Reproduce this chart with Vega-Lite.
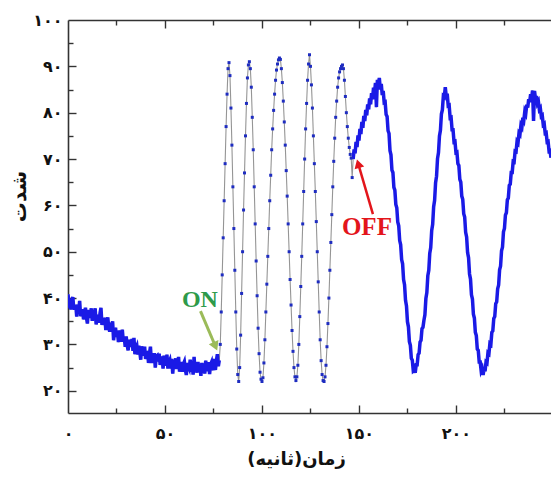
{
"$schema":"https://vega.github.io/schema/vega-lite/v6.json",
"width":483,"height":393,
"autosize":{"type":"none"},
"padding":{"left":68,"top":20,"right":0,"bottom":64},
"background":"white",
"config":{"view":{"stroke":null},"axis":{"grid":false,"domainColor":"#333333","tickColor":"#333333","domainWidth":1.6,"tickWidth":1.4,"labelFont":"DejaVu Sans","labelFontWeight":"bold","labelColor":"#111111","titleFont":"DejaVu Sans","titleFontWeight":"bold","titleColor":"#111111"}},
"datasets":{
"notes":[{"label":"ON","tx":68.0,"ty":39.6,"ax":68.3,"ay":37.2,"hx":76.0,"hy":29.6},{"label":"OFF","tx":154.1,"ty":55.3,"ax":157.2,"ay":58.1,"hx":149.6,"hy":69.0}],
"signal":[
{"t":0,"v":40.8,"p":"pre"},{"t":0.5,"v":39.0,"p":"pre"},{"t":1,"v":39.5,"p":"pre"},{"t":1.5,"v":37.5,"p":"pre"},{"t":2,"v":39.6,"p":"pre"},{"t":2.5,"v":40.2,"p":"pre"},{"t":3,"v":37.5,"p":"pre"},{"t":3.5,"v":38.0,"p":"pre"},{"t":4,"v":38.5,"p":"pre"},{"t":4.5,"v":36.0,"p":"pre"},{"t":5,"v":38.6,"p":"pre"},{"t":5.5,"v":36.9,"p":"pre"},{"t":6,"v":39.4,"p":"pre"},{"t":6.5,"v":36.1,"p":"pre"},{"t":7,"v":36.7,"p":"pre"},{"t":7.5,"v":37.6,"p":"pre"},{"t":8,"v":35.4,"p":"pre"},{"t":8.5,"v":36.9,"p":"pre"},{"t":9,"v":37.9,"p":"pre"},{"t":9.5,"v":35.8,"p":"pre"},{"t":10,"v":34.5,"p":"pre"},{"t":10.5,"v":37.4,"p":"pre"},{"t":11,"v":36.8,"p":"pre"},{"t":11.5,"v":35.7,"p":"pre"},{"t":12,"v":37.8,"p":"pre"},{"t":12.5,"v":35.1,"p":"pre"},{"t":13,"v":36.3,"p":"pre"},{"t":13.5,"v":35.6,"p":"pre"},{"t":14,"v":37.8,"p":"pre"},{"t":14.5,"v":34.3,"p":"pre"},{"t":15,"v":36.4,"p":"pre"},{"t":15.5,"v":35.6,"p":"pre"},{"t":16,"v":34.7,"p":"pre"},{"t":16.5,"v":36.7,"p":"pre"},{"t":17,"v":37.9,"p":"pre"},{"t":17.5,"v":34.2,"p":"pre"},{"t":18,"v":35.7,"p":"pre"},{"t":18.5,"v":34.3,"p":"pre"},{"t":19,"v":35.8,"p":"pre"},{"t":19.5,"v":33.1,"p":"pre"},{"t":20,"v":35.1,"p":"pre"},{"t":20.5,"v":35.8,"p":"pre"},{"t":21,"v":33.6,"p":"pre"},{"t":21.5,"v":32.8,"p":"pre"},{"t":22,"v":34.7,"p":"pre"},{"t":22.5,"v":33.3,"p":"pre"},{"t":23,"v":35.0,"p":"pre"},{"t":23.5,"v":30.9,"p":"pre"},{"t":24,"v":33.0,"p":"pre"},{"t":24.5,"v":33.6,"p":"pre"},{"t":25,"v":31.6,"p":"pre"},{"t":25.5,"v":32.6,"p":"pre"},{"t":26,"v":30.5,"p":"pre"},{"t":26.5,"v":33.0,"p":"pre"},{"t":27,"v":31.5,"p":"pre"},{"t":27.5,"v":30.6,"p":"pre"},{"t":28,"v":33.2,"p":"pre"},{"t":28.5,"v":30.7,"p":"pre"},{"t":29,"v":31.6,"p":"pre"},{"t":29.5,"v":29.5,"p":"pre"},{"t":30,"v":31.7,"p":"pre"},{"t":30.5,"v":29.8,"p":"pre"},{"t":31,"v":28.7,"p":"pre"},{"t":31.5,"v":31.0,"p":"pre"},{"t":32,"v":30.3,"p":"pre"},{"t":32.5,"v":29.5,"p":"pre"},{"t":33,"v":31.2,"p":"pre"},{"t":33.5,"v":28.6,"p":"pre"},{"t":34,"v":31.4,"p":"pre"},{"t":34.5,"v":27.9,"p":"pre"},{"t":35,"v":29.2,"p":"pre"},{"t":35.5,"v":29.7,"p":"pre"},{"t":36,"v":27.8,"p":"pre"},{"t":36.5,"v":29.7,"p":"pre"},{"t":37,"v":28.4,"p":"pre"},{"t":37.5,"v":26.7,"p":"pre"},{"t":38,"v":29.6,"p":"pre"},{"t":38.5,"v":27.6,"p":"pre"},{"t":39,"v":28.4,"p":"pre"},{"t":39.5,"v":29.5,"p":"pre"},{"t":40,"v":26.9,"p":"pre"},{"t":40.5,"v":27.4,"p":"pre"},{"t":41,"v":28.6,"p":"pre"},{"t":41.5,"v":26.0,"p":"pre"},{"t":42,"v":28.0,"p":"pre"},{"t":42.5,"v":29.5,"p":"pre"},{"t":43,"v":26.0,"p":"pre"},{"t":43.5,"v":27.3,"p":"pre"},{"t":44,"v":26.3,"p":"pre"},{"t":44.5,"v":28.1,"p":"pre"},{"t":45,"v":25.0,"p":"pre"},{"t":45.5,"v":27.4,"p":"pre"},{"t":46,"v":27.6,"p":"pre"},{"t":46.5,"v":26.3,"p":"pre"},{"t":47,"v":28.0,"p":"pre"},{"t":47.5,"v":25.6,"p":"pre"},{"t":48,"v":26.3,"p":"pre"},{"t":48.5,"v":27.4,"p":"pre"},{"t":49,"v":24.8,"p":"pre"},{"t":49.5,"v":27.6,"p":"pre"},{"t":50,"v":26.6,"p":"pre"},{"t":50.5,"v":25.4,"p":"pre"},{"t":51,"v":27.8,"p":"pre"},{"t":51.5,"v":24.8,"p":"pre"},{"t":52,"v":26.1,"p":"pre"},{"t":52.5,"v":26.6,"p":"pre"},{"t":53,"v":24.8,"p":"pre"},{"t":53.5,"v":26.9,"p":"pre"},{"t":54,"v":23.7,"p":"pre"},{"t":54.5,"v":26.5,"p":"pre"},{"t":55,"v":25.2,"p":"pre"},{"t":55.5,"v":27.0,"p":"pre"},{"t":56,"v":24.7,"p":"pre"},{"t":56.5,"v":26.0,"p":"pre"},{"t":57,"v":27.3,"p":"pre"},{"t":57.5,"v":24.1,"p":"pre"},{"t":58,"v":25.3,"p":"pre"},{"t":58.5,"v":26.2,"p":"pre"},{"t":59,"v":24.1,"p":"pre"},{"t":59.5,"v":25.8,"p":"pre"},{"t":60,"v":26.3,"p":"pre"},{"t":60.5,"v":24.6,"p":"pre"},{"t":61,"v":23.4,"p":"pre"},{"t":61.5,"v":26.0,"p":"pre"},{"t":62,"v":25.3,"p":"pre"},{"t":62.5,"v":24.8,"p":"pre"},{"t":63,"v":26.7,"p":"pre"},{"t":63.5,"v":24.1,"p":"pre"},{"t":64,"v":25.7,"p":"pre"},{"t":64.5,"v":23.5,"p":"pre"},{"t":65,"v":27.3,"p":"pre"},{"t":65.5,"v":24.2,"p":"pre"},{"t":66,"v":25.3,"p":"pre"},{"t":66.5,"v":23.9,"p":"pre"},{"t":67,"v":26.2,"p":"pre"},{"t":67.5,"v":24.6,"p":"pre"},{"t":68,"v":25.6,"p":"pre"},{"t":68.5,"v":23.2,"p":"pre"},{"t":69,"v":26.0,"p":"pre"},{"t":69.5,"v":24.8,"p":"pre"},{"t":70,"v":25.8,"p":"pre"},{"t":70.5,"v":23.7,"p":"pre"},{"t":71,"v":26.5,"p":"pre"},{"t":71.5,"v":24.3,"p":"pre"},{"t":72,"v":24.9,"p":"pre"},{"t":72.5,"v":26.2,"p":"pre"},{"t":73,"v":23.6,"p":"pre"},{"t":73.5,"v":25.7,"p":"pre"},{"t":74,"v":26.2,"p":"pre"},{"t":74.5,"v":24.4,"p":"pre"},{"t":75,"v":26.9,"p":"pre"},{"t":75.5,"v":25.1,"p":"pre"},{"t":76,"v":24.5,"p":"pre"},{"t":76.5,"v":26.5,"p":"pre"},{"t":77,"v":27.9,"p":"pre"},{"t":77.5,"v":25.3,"p":"pre"},{"t":78,"v":26.6,"p":"pre"},
{"t":78.5,"v":30,"p":"osc"},{"t":79,"v":37,"p":"osc"},{"t":79.5,"v":45,"p":"osc"},{"t":80,"v":53,"p":"osc"},{"t":80.5,"v":61,"p":"osc"},{"t":81,"v":69,"p":"osc"},{"t":81.5,"v":77,"p":"osc"},{"t":82,"v":84,"p":"osc"},{"t":82.5,"v":89.5,"p":"osc"},{"t":83,"v":90.8,"p":"osc"},{"t":83.5,"v":88,"p":"osc"},{"t":84,"v":81,"p":"osc"},{"t":84.5,"v":73,"p":"osc"},{"t":85,"v":64,"p":"osc"},{"t":85.5,"v":55,"p":"osc"},{"t":86,"v":46,"p":"osc"},{"t":86.5,"v":37,"p":"osc"},{"t":87,"v":29,"p":"osc"},{"t":87.5,"v":23.5,"p":"osc"},{"t":88,"v":22,"p":"osc"},{"t":88.5,"v":25,"p":"osc"},{"t":89,"v":32,"p":"osc"},{"t":89.5,"v":41,"p":"osc"},{"t":90,"v":50,"p":"osc"},{"t":90.5,"v":59,"p":"osc"},{"t":91,"v":67,"p":"osc"},{"t":91.5,"v":75,"p":"osc"},{"t":92,"v":82,"p":"osc"},{"t":92.5,"v":87.5,"p":"osc"},{"t":93,"v":90.3,"p":"osc"},{"t":93.5,"v":91,"p":"osc"},{"t":94,"v":89.5,"p":"osc"},{"t":94.5,"v":85.5,"p":"osc"},{"t":95,"v":79,"p":"osc"},{"t":95.5,"v":72,"p":"osc"},{"t":96,"v":64,"p":"osc"},{"t":96.5,"v":56,"p":"osc"},{"t":97,"v":48,"p":"osc"},{"t":97.5,"v":40.5,"p":"osc"},{"t":98,"v":33.5,"p":"osc"},{"t":98.5,"v":28,"p":"osc"},{"t":99,"v":24,"p":"osc"},{"t":99.5,"v":22.5,"p":"osc"},{"t":100,"v":22,"p":"osc"},{"t":100.5,"v":22.8,"p":"osc"},{"t":101,"v":26,"p":"osc"},{"t":101.5,"v":31,"p":"osc"},{"t":102,"v":37,"p":"osc"},{"t":102.5,"v":43,"p":"osc"},{"t":103,"v":49,"p":"osc"},{"t":103.5,"v":55,"p":"osc"},{"t":104,"v":61,"p":"osc"},{"t":104.5,"v":66.5,"p":"osc"},{"t":105,"v":72,"p":"osc"},{"t":105.5,"v":76.5,"p":"osc"},{"t":106,"v":80.5,"p":"osc"},{"t":106.5,"v":84,"p":"osc"},{"t":107,"v":87,"p":"osc"},{"t":107.5,"v":89.2,"p":"osc"},{"t":108,"v":90.5,"p":"osc"},{"t":108.5,"v":91.4,"p":"osc"},{"t":109,"v":91.8,"p":"osc"},{"t":109.5,"v":91.5,"p":"osc"},{"t":110,"v":89.5,"p":"osc"},{"t":110.5,"v":86.5,"p":"osc"},{"t":111,"v":82.5,"p":"osc"},{"t":111.5,"v":78,"p":"osc"},{"t":112,"v":73,"p":"osc"},{"t":112.5,"v":67.5,"p":"osc"},{"t":113,"v":62,"p":"osc"},{"t":113.5,"v":56,"p":"osc"},{"t":114,"v":50,"p":"osc"},{"t":114.5,"v":44,"p":"osc"},{"t":115,"v":38.5,"p":"osc"},{"t":115.5,"v":33,"p":"osc"},{"t":116,"v":28.5,"p":"osc"},{"t":116.5,"v":25,"p":"osc"},{"t":117,"v":23,"p":"osc"},{"t":117.5,"v":22.2,"p":"osc"},{"t":118,"v":23,"p":"osc"},{"t":118.5,"v":25.5,"p":"osc"},{"t":119,"v":30,"p":"osc"},{"t":119.5,"v":36,"p":"osc"},{"t":120,"v":42.5,"p":"osc"},{"t":120.5,"v":49,"p":"osc"},{"t":121,"v":56,"p":"osc"},{"t":121.5,"v":63,"p":"osc"},{"t":122,"v":70,"p":"osc"},{"t":122.5,"v":76.5,"p":"osc"},{"t":123,"v":82,"p":"osc"},{"t":123.5,"v":87,"p":"osc"},{"t":124,"v":90.5,"p":"osc"},{"t":124.5,"v":92.5,"p":"osc"},{"t":125,"v":90,"p":"osc"},{"t":125.5,"v":86,"p":"osc"},{"t":126,"v":81,"p":"osc"},{"t":126.5,"v":75,"p":"osc"},{"t":127,"v":69,"p":"osc"},{"t":127.5,"v":63,"p":"osc"},{"t":128,"v":56.5,"p":"osc"},{"t":128.5,"v":50,"p":"osc"},{"t":129,"v":43.5,"p":"osc"},{"t":129.5,"v":37,"p":"osc"},{"t":130,"v":31,"p":"osc"},{"t":130.5,"v":26.5,"p":"osc"},{"t":131,"v":23.5,"p":"osc"},{"t":131.5,"v":22.2,"p":"osc"},{"t":132,"v":22,"p":"osc"},{"t":132.5,"v":23,"p":"osc"},{"t":133,"v":25.5,"p":"osc"},{"t":133.5,"v":29.5,"p":"osc"},{"t":134,"v":34.5,"p":"osc"},{"t":134.5,"v":40,"p":"osc"},{"t":135,"v":46,"p":"osc"},{"t":135.5,"v":52,"p":"osc"},{"t":136,"v":58,"p":"osc"},{"t":136.5,"v":64,"p":"osc"},{"t":137,"v":69.5,"p":"osc"},{"t":137.5,"v":74.5,"p":"osc"},{"t":138,"v":79,"p":"osc"},{"t":138.5,"v":82.5,"p":"osc"},{"t":139,"v":85.5,"p":"osc"},{"t":139.5,"v":87.5,"p":"osc"},{"t":140,"v":88.8,"p":"osc"},{"t":140.5,"v":89.5,"p":"osc"},{"t":141,"v":90,"p":"osc"},{"t":141.5,"v":90.3,"p":"osc"},{"t":142,"v":89.5,"p":"osc"},{"t":142.5,"v":87,"p":"osc"},{"t":143,"v":83.5,"p":"osc"},{"t":143.5,"v":80,"p":"osc"},{"t":144,"v":77,"p":"osc"},{"t":144.5,"v":74.5,"p":"osc"},{"t":145,"v":72.5,"p":"osc"},{"t":145.5,"v":71,"p":"osc"},{"t":146,"v":70.2,"p":"osc"},{"t":146.5,"v":66,"p":"osc"},
{"t":147,"v":70.0,"p":"post"},{"t":147.5,"v":72.1,"p":"post"},{"t":148,"v":71.2,"p":"post"},{"t":148.5,"v":73.7,"p":"post"},{"t":149,"v":72.6,"p":"post"},{"t":149.5,"v":75.1,"p":"post"},{"t":150,"v":74.0,"p":"post"},{"t":150.5,"v":76.5,"p":"post"},{"t":151,"v":75.4,"p":"post"},{"t":151.5,"v":78.0,"p":"post"},{"t":152,"v":76.7,"p":"post"},{"t":152.5,"v":79.3,"p":"post"},{"t":153,"v":78.2,"p":"post"},{"t":153.5,"v":80.6,"p":"post"},{"t":154,"v":79.4,"p":"post"},{"t":154.5,"v":81.8,"p":"post"},{"t":155,"v":80.7,"p":"post"},{"t":155.5,"v":83.1,"p":"post"},{"t":156,"v":81.8,"p":"post"},{"t":156.5,"v":84.2,"p":"post"},{"t":157,"v":82.9,"p":"post"},{"t":157.5,"v":85.4,"p":"post"},{"t":158,"v":84.1,"p":"post"},{"t":158.5,"v":86.4,"p":"post"},{"t":159,"v":81.2,"p":"post"},{"t":159.5,"v":87.1,"p":"post"},{"t":160,"v":85.8,"p":"post"},{"t":160.5,"v":87.5,"p":"post"},{"t":161,"v":85.0,"p":"post"},{"t":161.5,"v":86.2,"p":"post"},{"t":162,"v":83.8,"p":"post"},{"t":162.5,"v":84.7,"p":"post"},{"t":163,"v":82.2,"p":"post"},{"t":163.5,"v":82.3,"p":"post"},{"t":164,"v":79.6,"p":"post"},{"t":164.5,"v":79.2,"p":"post"},{"t":165,"v":76.1,"p":"post"},{"t":165.5,"v":75.5,"p":"post"},{"t":166,"v":71.8,"p":"post"},{"t":166.5,"v":70.9,"p":"post"},{"t":167,"v":67.6,"p":"post"},{"t":167.5,"v":67.1,"p":"post"},{"t":168,"v":63.9,"p":"post"},{"t":168.5,"v":63.3,"p":"post"},{"t":169,"v":60.2,"p":"post"},{"t":169.5,"v":59.5,"p":"post"},{"t":170,"v":56.4,"p":"post"},{"t":170.5,"v":55.6,"p":"post"},{"t":171,"v":52.4,"p":"post"},{"t":171.5,"v":51.5,"p":"post"},{"t":172,"v":48.3,"p":"post"},{"t":172.5,"v":47.4,"p":"post"},{"t":173,"v":44.0,"p":"post"},{"t":173.5,"v":42.9,"p":"post"},{"t":174,"v":39.5,"p":"post"},{"t":174.5,"v":38.3,"p":"post"},{"t":175,"v":34.9,"p":"post"},{"t":175.5,"v":33.8,"p":"post"},{"t":176,"v":30.6,"p":"post"},{"t":176.5,"v":29.8,"p":"post"},{"t":177,"v":27.0,"p":"post"},{"t":177.5,"v":26.6,"p":"post"},{"t":178,"v":24.3,"p":"post"},{"t":178.5,"v":24.5,"p":"post"},{"t":179,"v":23.9,"p":"post"},{"t":179.5,"v":25.6,"p":"post"},{"t":180,"v":25.6,"p":"post"},{"t":180.5,"v":27.8,"p":"post"},{"t":181,"v":28.1,"p":"post"},{"t":181.5,"v":30.5,"p":"post"},{"t":182,"v":30.9,"p":"post"},{"t":182.5,"v":33.4,"p":"post"},{"t":183,"v":33.7,"p":"post"},{"t":183.5,"v":35.2,"p":"post"},{"t":184,"v":36.4,"p":"post"},{"t":184.5,"v":39.9,"p":"post"},{"t":185,"v":41.2,"p":"post"},{"t":185.5,"v":44.8,"p":"post"},{"t":186,"v":46.0,"p":"post"},{"t":186.5,"v":49.7,"p":"post"},{"t":187,"v":50.9,"p":"post"},{"t":187.5,"v":54.6,"p":"post"},{"t":188,"v":55.9,"p":"post"},{"t":188.5,"v":59.7,"p":"post"},{"t":189,"v":61.1,"p":"post"},{"t":189.5,"v":64.9,"p":"post"},{"t":190,"v":66.3,"p":"post"},{"t":190.5,"v":70.1,"p":"post"},{"t":191,"v":71.4,"p":"post"},{"t":191.5,"v":75.0,"p":"post"},{"t":192,"v":76.2,"p":"post"},{"t":192.5,"v":79.7,"p":"post"},{"t":193,"v":80.6,"p":"post"},{"t":193.5,"v":83.6,"p":"post"},{"t":194,"v":83.4,"p":"post"},{"t":194.5,"v":85.5,"p":"post"},{"t":195,"v":83.5,"p":"post"},{"t":195.5,"v":84.1,"p":"post"},{"t":196,"v":81.5,"p":"post"},{"t":196.5,"v":81.6,"p":"post"},{"t":197,"v":78.9,"p":"post"},{"t":197.5,"v":79.0,"p":"post"},{"t":198,"v":76.3,"p":"post"},{"t":198.5,"v":76.3,"p":"post"},{"t":199,"v":73.7,"p":"post"},{"t":199.5,"v":73.8,"p":"post"},{"t":200,"v":71.4,"p":"post"},{"t":200.5,"v":71.5,"p":"post"},{"t":201,"v":69.0,"p":"post"},{"t":201.5,"v":68.6,"p":"post"},{"t":202,"v":65.6,"p":"post"},{"t":202.5,"v":65.0,"p":"post"},{"t":203,"v":62.0,"p":"post"},{"t":203.5,"v":61.3,"p":"post"},{"t":204,"v":58.2,"p":"post"},{"t":204.5,"v":57.5,"p":"post"},{"t":205,"v":54.2,"p":"post"},{"t":205.5,"v":53.2,"p":"post"},{"t":206,"v":49.8,"p":"post"},{"t":206.5,"v":48.7,"p":"post"},{"t":207,"v":45.2,"p":"post"},{"t":207.5,"v":44.1,"p":"post"},{"t":208,"v":40.7,"p":"post"},{"t":208.5,"v":39.8,"p":"post"},{"t":209,"v":36.5,"p":"post"},{"t":209.5,"v":35.7,"p":"post"},{"t":210,"v":32.6,"p":"post"},{"t":210.5,"v":31.9,"p":"post"},{"t":211,"v":29.0,"p":"post"},{"t":211.5,"v":28.7,"p":"post"},{"t":212,"v":26.2,"p":"post"},{"t":212.5,"v":26.2,"p":"post"},{"t":213,"v":24.3,"p":"post"},{"t":213.5,"v":24.8,"p":"post"},{"t":214,"v":23.4,"p":"post"},{"t":214.5,"v":24.8,"p":"post"},{"t":215,"v":24.2,"p":"post"},{"t":215.5,"v":26.2,"p":"post"},{"t":216,"v":26.0,"p":"post"},{"t":216.5,"v":28.2,"p":"post"},{"t":217,"v":28.0,"p":"post"},{"t":217.5,"v":30.2,"p":"post"},{"t":218,"v":30.0,"p":"post"},{"t":218.5,"v":32.6,"p":"post"},{"t":219,"v":32.9,"p":"post"},{"t":219.5,"v":35.6,"p":"post"},{"t":220,"v":36.0,"p":"post"},{"t":220.5,"v":38.8,"p":"post"},{"t":221,"v":39.2,"p":"post"},{"t":221.5,"v":42.0,"p":"post"},{"t":222,"v":42.8,"p":"post"},{"t":222.5,"v":46.1,"p":"post"},{"t":223,"v":46.9,"p":"post"},{"t":223.5,"v":50.2,"p":"post"},{"t":224,"v":51.0,"p":"post"},{"t":224.5,"v":54.3,"p":"post"},{"t":225,"v":55.0,"p":"post"},{"t":225.5,"v":57.9,"p":"post"},{"t":226,"v":58.4,"p":"post"},{"t":226.5,"v":61.2,"p":"post"},{"t":227,"v":61.6,"p":"post"},{"t":227.5,"v":64.3,"p":"post"},{"t":228,"v":64.6,"p":"post"},{"t":228.5,"v":67.1,"p":"post"},{"t":229,"v":67.1,"p":"post"},{"t":229.5,"v":69.5,"p":"post"},{"t":230,"v":69.4,"p":"post"},{"t":230.5,"v":71.7,"p":"post"},{"t":231,"v":71.6,"p":"post"},{"t":231.5,"v":73.8,"p":"post"},{"t":232,"v":73.5,"p":"post"},{"t":232.5,"v":75.6,"p":"post"},{"t":233,"v":75.3,"p":"post"},{"t":233.5,"v":77.3,"p":"post"},{"t":234,"v":76.9,"p":"post"},{"t":234.5,"v":78.9,"p":"post"},{"t":235,"v":78.4,"p":"post"},{"t":235.5,"v":80.3,"p":"post"},{"t":236,"v":79.8,"p":"post"},{"t":236.5,"v":81.7,"p":"post"},{"t":237,"v":81.1,"p":"post"},{"t":237.5,"v":82.9,"p":"post"},{"t":238,"v":82.3,"p":"post"},{"t":238.5,"v":84.0,"p":"post"},{"t":239,"v":83.2,"p":"post"},{"t":239.5,"v":84.8,"p":"post"},{"t":240,"v":78.2,"p":"post"},{"t":240.5,"v":84.7,"p":"post"},{"t":241,"v":83.0,"p":"post"},{"t":241.5,"v":83.6,"p":"post"},{"t":242,"v":82.0,"p":"post"},{"t":242.5,"v":82.4,"p":"post"},{"t":243,"v":80.7,"p":"post"},{"t":243.5,"v":81.0,"p":"post"},{"t":244,"v":79.2,"p":"post"},{"t":244.5,"v":79.4,"p":"post"},{"t":245,"v":77.4,"p":"post"},{"t":245.5,"v":77.6,"p":"post"},{"t":246,"v":75.6,"p":"post"},{"t":246.5,"v":75.7,"p":"post"},{"t":247,"v":73.7,"p":"post"},{"t":247.5,"v":73.8,"p":"post"},{"t":248,"v":71.7,"p":"post"},{"t":248.5,"v":71.8,"p":"post"},{"t":249,"v":70.3,"p":"post"}
]},
"resolve":{"axis":{"x":"independent","y":"independent"}},
"layer":[
{"data":{"name":"signal"},"mark":{"type":"line","color":"#959595","strokeWidth":1.1,"clip":true},
 "encoding":{
  "x":{"field":"t","type":"quantitative","scale":{"domain":[0,249],"nice":false,"zero":false},
   "axis":{"orient":"bottom","values":[0,50,100,150,200],"ticks":false,"tickSize":0,"labelPadding":12,"labelFlush":false,"labelFontSize":16,"format":"d",
    "labelExpr":"replace(replace(replace(replace(replace(replace(replace(replace(replace(replace(datum.label,regexp('0','g'),'۰'),regexp('1','g'),'۱'),regexp('2','g'),'۲'),regexp('3','g'),'۳'),regexp('4','g'),'۴'),regexp('5','g'),'۵'),regexp('6','g'),'۶'),regexp('7','g'),'۷'),regexp('8','g'),'۸'),regexp('9','g'),'۹')",
    "title":"زمان(ثانیه)\u200f","titleFontSize":18,"titleX":228,"titleY":46,"titleAlign":"center","titleBaseline":"middle"}},
  "y":{"field":"v","type":"quantitative","scale":{"domain":[15.2,100],"nice":false,"zero":false},
   "axis":{"orient":"left","values":[20,30,40,50,60,70,80,90,100],"ticks":false,"tickSize":0,"labelPadding":6,"labelFontSize":16,"format":"d",
    "labelExpr":"replace(replace(replace(replace(replace(replace(replace(replace(replace(replace(datum.label,regexp('0','g'),'۰'),regexp('1','g'),'۱'),regexp('2','g'),'۲'),regexp('3','g'),'۳'),regexp('4','g'),'۴'),regexp('5','g'),'۵'),regexp('6','g'),'۶'),regexp('7','g'),'۷'),regexp('8','g'),'۸'),regexp('9','g'),'۹')",
    "title":"شدت","titleFontSize":20,"titleX":-49,"titleY":176,"titleAngle":-90,"titleAlign":"center","titleBaseline":"middle"}}}},
{"data":{"name":"signal"},"transform":[{"filter":"datum.p != 'osc'"}],"mark":{"type":"line","color":"#1a1ae6","strokeWidth":3.5,"clip":true},
 "encoding":{
  "x":{"field":"t","type":"quantitative","scale":{"domain":[0,249],"nice":false,"zero":false},"axis":{"orient":"top","values":[50,100,150,200],"tickSize":-8,"tickColor":"#333333","domainColor":"#333333","labels":false,"title":null}},
  "y":{"field":"v","type":"quantitative","scale":{"domain":[15.2,100],"nice":false,"zero":false},"axis":{"orient":"left","values":[25,35,45,55,65,75,85,95],"tickSize":-5,"tickColor":"#333333","labels":false,"domain":false,"title":null}},
  "detail":{"field":"p"}}},
{"data":{"name":"signal"},"transform":[{"filter":"datum.p == 'osc'"}],"mark":{"type":"point","shape":"square","filled":true,"size":9,"color":"#1e2cc0","opacity":1,"clip":true},
 "encoding":{
  "x":{"field":"t","type":"quantitative","scale":{"domain":[0,249],"nice":false,"zero":false},"axis":{"orient":"bottom","values":[25,75,125,175,225],"tickSize":-5,"tickColor":"#333333","labels":false,"domain":false,"title":null}},
  "y":{"field":"v","type":"quantitative","scale":{"domain":[15.2,100],"nice":false,"zero":false},"axis":{"orient":"left","values":[20,30,40,50,60,70,80,90],"tickSize":-8,"tickColor":"#333333","labels":false,"domain":false,"title":null}}}},
{"data":{"name":"notes"},"transform":[{"filter":"datum.label == 'ON'"}],"mark":{"type":"text","font":"Liberation Serif","fontWeight":"bold","fontSize":24,"color":"#2e9a4a","align":"center","baseline":"middle"},
 "encoding":{
  "x":{"field":"tx","type":"quantitative","scale":{"domain":[0,249],"nice":false,"zero":false},"axis":{"orient":"top","values":[25,75,125,175,225],"tickSize":-5,"tickColor":"#333333","labels":false,"domain":false,"title":null}},
  "y":{"field":"ty","type":"quantitative","scale":{"domain":[15.2,100],"nice":false,"zero":false},"axis":{"orient":"left","ticks":false,"labels":false,"domain":false,"title":null}},
  "text":{"field":"label"}}},
{"data":{"name":"notes"},"transform":[{"filter":"datum.label == 'OFF'"}],"mark":{"type":"text","font":"Liberation Serif","fontWeight":"bold","fontSize":25,"color":"#e3151b","align":"center","baseline":"middle"},
 "encoding":{
  "x":{"field":"tx","type":"quantitative","scale":{"domain":[0,249],"nice":false,"zero":false},"axis":{"orient":"bottom","values":[50,100,150,200],"tickSize":-8,"tickColor":"#333333","labels":false,"domain":false,"title":null}},
  "y":{"field":"ty","type":"quantitative","scale":{"domain":[15.2,100],"nice":false,"zero":false},"axis":{"orient":"left","ticks":false,"labels":false,"domain":false,"title":null}},
  "text":{"field":"label"}}},
{"data":{"name":"notes"},"transform":[{"filter":"datum.label == 'ON'"}],"mark":{"type":"rule","color":"#9bbb59","strokeWidth":3},
 "encoding":{
  "x":{"field":"ax","type":"quantitative","scale":{"domain":[0,249],"nice":false,"zero":false},"axis":{"orient":"bottom","ticks":false,"labels":false,"domain":false,"title":null}},
  "y":{"field":"ay","type":"quantitative","scale":{"domain":[15.2,100],"nice":false,"zero":false},"axis":{"orient":"left","ticks":false,"labels":false,"domain":false,"title":null}},
  "x2":{"field":"hx"},"y2":{"field":"hy"}}},
{"data":{"name":"notes"},"transform":[{"filter":"datum.label == 'OFF'"}],"mark":{"type":"rule","color":"#e3151b","strokeWidth":2.5},
 "encoding":{
  "x":{"field":"ax","type":"quantitative","scale":{"domain":[0,249],"nice":false,"zero":false},"axis":{"orient":"bottom","ticks":false,"labels":false,"domain":false,"title":null}},
  "y":{"field":"ay","type":"quantitative","scale":{"domain":[15.2,100],"nice":false,"zero":false},"axis":{"orient":"left","ticks":false,"labels":false,"domain":false,"title":null}},
  "x2":{"field":"hx"},"y2":{"field":"hy"}}},
{"data":{"name":"notes"},"transform":[{"filter":"datum.label == 'ON'"}],"mark":{"type":"point","shape":"triangle-up","filled":true,"size":110,"angle":156.6,"color":"#9bbb59","opacity":1},
 "encoding":{
  "x":{"field":"hx","type":"quantitative","scale":{"domain":[0,249],"nice":false,"zero":false},"axis":{"orient":"bottom","ticks":false,"labels":false,"domain":false,"title":null}},
  "y":{"field":"hy","type":"quantitative","scale":{"domain":[15.2,100],"nice":false,"zero":false},"axis":{"orient":"left","ticks":false,"labels":false,"domain":false,"title":null}}}},
{"data":{"name":"notes"},"transform":[{"filter":"datum.label == 'OFF'"}],"mark":{"type":"point","shape":"triangle-up","filled":true,"size":100,"angle":343.5,"color":"#e3151b","opacity":1},
 "encoding":{
  "x":{"field":"hx","type":"quantitative","scale":{"domain":[0,249],"nice":false,"zero":false},"axis":{"orient":"bottom","ticks":false,"labels":false,"domain":false,"title":null}},
  "y":{"field":"hy","type":"quantitative","scale":{"domain":[15.2,100],"nice":false,"zero":false},"axis":{"orient":"left","ticks":false,"labels":false,"domain":false,"title":null}}}}
]
}
